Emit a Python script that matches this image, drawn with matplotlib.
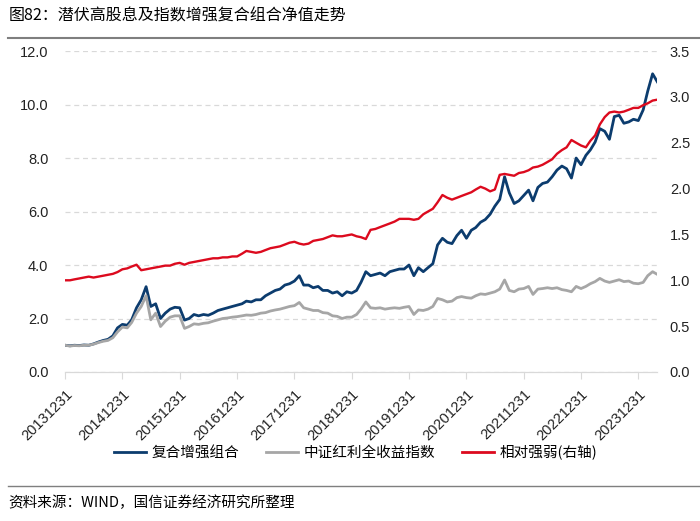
import numpy as np
import pandas as pd
import matplotlib
matplotlib.use('Agg')
import matplotlib.pyplot as plt
from matplotlib.lines import Line2D

plt.rcParams['font.family'] = ['Liberation Sans', 'Noto Sans CJK SC', 'DejaVu Sans']

# Data (monthly readings, Dec 2013 .. Apr 2024)
dates = pd.date_range('2013-12-31', periods=125, freq='ME')

combo = [
    1.00, 0.98, 1.00, 0.99, 1.01, 1.00, 1.05, 1.12, 1.18, 1.22, 1.35, 1.65,
    1.78, 1.75, 1.95, 2.40, 2.70, 3.19, 2.45, 2.55, 2.00, 2.20, 2.35, 2.42,
    2.40, 1.94, 2.00, 2.15, 2.10, 2.15, 2.12, 2.20, 2.30, 2.35, 2.40, 2.45,
    2.50, 2.55, 2.65, 2.62, 2.70, 2.70, 2.85, 2.95, 3.05, 3.10, 3.25, 3.30,
    3.40, 3.60, 3.25, 3.25, 3.15, 3.20, 3.05, 3.05, 2.95, 3.00, 2.85, 3.00,
    2.95, 3.05, 3.35, 3.75, 3.60, 3.65, 3.70, 3.60, 3.75, 3.80, 3.85, 3.85,
    4.00, 3.60, 3.90, 3.75, 3.90, 4.05, 4.75, 5.00, 4.85, 4.80, 5.10, 5.30,
    5.00, 5.30, 5.40, 5.60, 5.70, 5.90, 6.20, 6.45, 7.30, 6.70, 6.30, 6.40,
    6.60, 6.80, 6.40, 6.90, 7.05, 7.10, 7.30, 7.55, 7.70, 7.60, 7.25, 8.00,
    7.75, 8.10, 8.30, 8.60, 9.10, 9.00, 8.70, 9.55, 9.60, 9.30, 9.35, 9.45,
    9.40, 9.80, 10.50, 11.15, 10.85,
]

dividend = [
    1.00, 0.97, 0.99, 0.98, 1.00, 1.00, 1.04, 1.10, 1.15, 1.18, 1.28, 1.50,
    1.68, 1.65, 1.85, 2.20, 2.45, 2.85, 1.95, 2.20, 1.70, 1.90, 2.05, 2.10,
    2.10, 1.63, 1.70, 1.80, 1.78, 1.82, 1.84, 1.90, 1.95, 2.00, 2.02, 2.05,
    2.07, 2.10, 2.13, 2.12, 2.15, 2.20, 2.22, 2.28, 2.32, 2.35, 2.40, 2.45,
    2.48, 2.60, 2.40, 2.35, 2.30, 2.30, 2.22, 2.20, 2.10, 2.08, 2.00, 2.05,
    2.05, 2.15, 2.35, 2.62, 2.40, 2.38, 2.40, 2.35, 2.38, 2.40, 2.38, 2.42,
    2.45, 2.15, 2.32, 2.30, 2.35, 2.45, 2.75, 2.70, 2.62, 2.65, 2.78, 2.82,
    2.78, 2.76, 2.85, 2.92, 2.90, 2.95, 3.00, 3.10, 3.44, 3.05, 3.00, 3.10,
    3.12, 3.20, 2.90, 3.10, 3.12, 3.15, 3.12, 3.15, 3.08, 3.05, 3.00, 3.20,
    3.12, 3.20, 3.30, 3.38, 3.50, 3.40, 3.35, 3.40, 3.45, 3.38, 3.40, 3.32,
    3.30, 3.35, 3.60, 3.75, 3.65,
]

relative = [
    1.00, 1.00, 1.01, 1.02, 1.03, 1.04, 1.03, 1.04, 1.05, 1.06, 1.07, 1.09,
    1.12, 1.13, 1.15, 1.17, 1.11, 1.12, 1.13, 1.14, 1.15, 1.16, 1.16, 1.18,
    1.19, 1.17, 1.19, 1.20, 1.21, 1.22, 1.23, 1.24, 1.24, 1.25, 1.25, 1.26,
    1.26, 1.29, 1.32, 1.31, 1.30, 1.31, 1.33, 1.35, 1.36, 1.37, 1.39, 1.41,
    1.42, 1.40, 1.39, 1.40, 1.43, 1.44, 1.45, 1.47, 1.49, 1.48, 1.48, 1.49,
    1.50, 1.48, 1.47, 1.45, 1.55, 1.56, 1.58, 1.60, 1.62, 1.64, 1.67, 1.67,
    1.67, 1.66, 1.67, 1.72, 1.75, 1.78, 1.85, 1.93, 1.90, 1.88, 1.90, 1.92,
    1.94, 1.96, 1.99, 2.02, 2.00, 1.97, 1.99, 2.15, 2.16, 2.15, 2.14, 2.17,
    2.18, 2.20, 2.23, 2.24, 2.26, 2.29, 2.32, 2.38, 2.42, 2.45, 2.53, 2.50,
    2.47, 2.45, 2.52, 2.58, 2.70, 2.78, 2.83, 2.84, 2.83, 2.84, 2.86, 2.88,
    2.88, 2.91, 2.93, 2.96, 2.97,
]

tick_dates = pd.to_datetime([f'{y}-12-31' for y in range(2013, 2024)])
tick_labels = [f'{y}1231' for y in range(2013, 2024)]

c_blue = '#0c3c6e'
c_gray = '#a6a6a6'
c_red = '#dc0a1e'

fig = plt.figure(figsize=(7.0, 5.21), dpi=100)
ax = fig.add_axes([0.093, 0.286, 0.846, 0.616])
ax2 = ax.twinx()

ax.plot(dates, combo, color=c_blue, lw=2.0)
ax.plot(dates, dividend, color=c_gray, lw=2.0)
ax2.plot(dates, relative, color=c_red, lw=1.7)

ax.set_ylim(0, 12)
ax.set_yticks(np.arange(0, 12.1, 2))
ax.set_yticklabels([f'{v:.1f}' for v in np.arange(0, 12.1, 2)])
ax2.set_ylim(0, 3.5)
ax2.set_yticks(np.arange(0, 3.51, 0.5))
ax2.set_yticklabels([f'{v:.1f}' for v in np.arange(0, 3.51, 0.5)])

ax.set_xlim(dates[0], dates[-1])
ax.set_xticks(tick_dates)
ax.set_xticklabels(tick_labels, rotation=45, ha='right', rotation_mode='anchor')

ax.grid(axis='y', color='#d9d9d9', ls=(0, (4, 3)), lw=0.9)
ax.set_axisbelow(True)
for a in (ax, ax2):
    for s in ('left', 'right', 'top'):
        a.spines[s].set_visible(False)
    a.spines['bottom'].set_color('#d9d9d9')
    a.tick_params(axis='y', length=0, labelsize=10.5, colors='#222222')
ax.tick_params(axis='y', pad=12)
ax2.tick_params(axis='y', pad=9)
ax.tick_params(axis='x', length=5, color='#d9d9d9', labelsize=10.5, colors='#222222', pad=6)

handles = [Line2D([], [], color=c_blue, lw=2.0),
           Line2D([], [], color=c_gray, lw=2.0),
           Line2D([], [], color=c_red, lw=2.0)]
names = ['复合增强组合', '中证红利全收益指数', '相对强弱(右轴)']
fig.legend(handles, names, loc='center', bbox_to_anchor=(0.508, 0.132), ncol=3,
           frameon=False, handlelength=2.2, columnspacing=1.85,
           handletextpad=0.35, prop={'family': ['Noto Sans CJK SC'], 'size': 10.5})

fig.text(0.012, 0.970, '图82：潜伏高股息及指数增强复合组合净值走势', fontsize=11.5,
         family=['Noto Sans CJK SC'], va='center', ha='left')
fig.add_artist(Line2D([0.012, 1.0], [0.928, 0.928], color='#7f7f7f', lw=1.5))
fig.add_artist(Line2D([0.012, 1.0], [0.068, 0.068], color='#7f7f7f', lw=1.0))
fig.text(0.012, 0.035, '资料来源：WIND，国信证券经济研究所整理', fontsize=10.5,
         family=['Noto Sans CJK SC'], va='center', ha='left')

fig.savefig('out.png', dpi=100)
